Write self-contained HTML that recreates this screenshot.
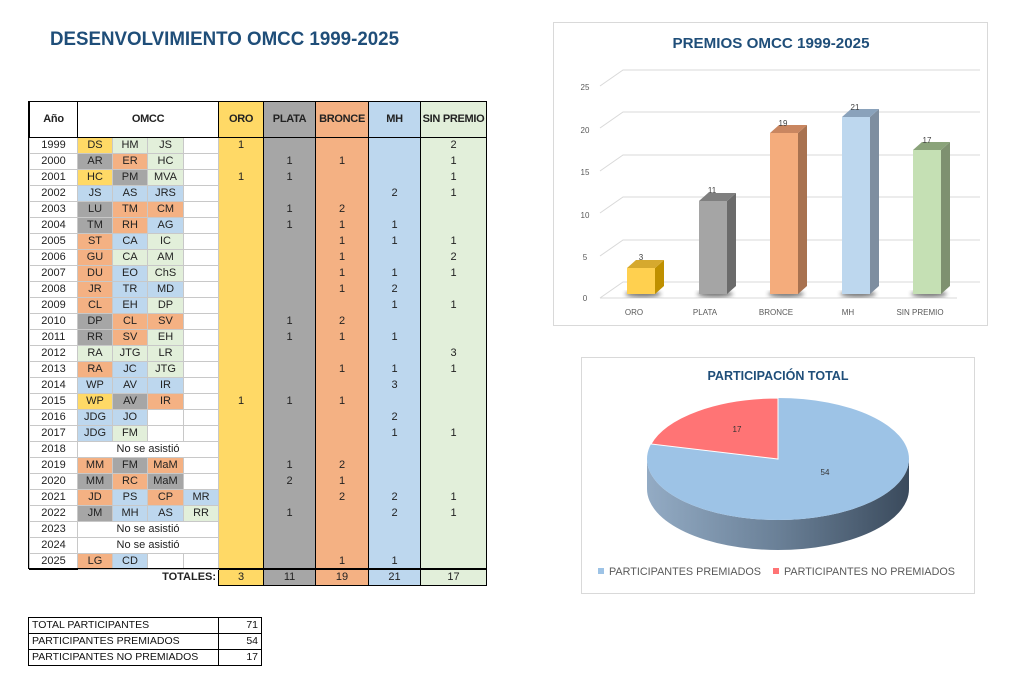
<!DOCTYPE html>
<html><head><meta charset="utf-8">
<style>
body{margin:0;width:1024px;height:692px;background:#fff;position:relative;overflow:hidden;font-family:"Liberation Sans",sans-serif;}
#t{position:absolute;left:29px;top:101px;width:457px;border-collapse:collapse;table-layout:fixed;font-size:11px;color:#222;}
#t td{height:15px;padding:0;text-align:center;border:1px solid #c8c8c8;line-height:15px;white-space:nowrap;overflow:hidden;}
#t tr.h td{height:35px;font-weight:bold;font-size:11px;letter-spacing:-0.3px;border:1px solid #000;}
#t td.Y{background:#ffd966}#t td.G{background:#a6a6a6}#t td.O{background:#f4b183}#t td.B{background:#bdd7ee}#t td.L{background:#e2efda}
#t td.c{border-top:none;border-bottom:none;border-left:1px solid #000;border-right:1px solid #000;}
#t tr.tot td{border:1px solid #000;}
#t tr.tot td.n{border:none;text-align:right;font-weight:bold;padding-right:2px;overflow:visible;}
#b{position:absolute;left:28px;top:617px;border-collapse:collapse;font-size:10.5px;color:#111;}
#b td{border:1px solid #000;height:15px;padding:0 3px;line-height:15px;}
</style></head><body>
<svg width="1024" height="692" style="position:absolute;left:0;top:0">
<defs>
<linearGradient id="side" x1="0" x2="1" y1="0" y2="0"><stop offset="0" stop-color="#93abc4"/><stop offset="0.5" stop-color="#6a8097"/><stop offset="1" stop-color="#3a4a5c"/></linearGradient>
<filter id="bl"><feGaussianBlur stdDeviation="2"/></filter>
</defs>
<text x="50" y="45" font-size="19" font-weight="bold" fill="#1f4e79" textLength="349" lengthAdjust="spacingAndGlyphs">DESENVOLVIMIENTO OMCC 1999-2025</text>
<rect x="553.5" y="22.5" width="434" height="303" fill="#fff" stroke="#d9d9d9"/>
<text x="771" y="48" font-size="15" font-weight="bold" fill="#1f4e79" text-anchor="middle" textLength="197" lengthAdjust="spacingAndGlyphs">PREMIOS OMCC 1999-2025</text>
<g stroke="#d9d9d9" fill="none" stroke-width="1">
<polyline points="600,298 623,282 980,282"/>
<polyline points="600,256 623,240 980,240"/>
<polyline points="600,213 623,197 980,197"/>
<polyline points="600,171 623,155 980,155"/>
<polyline points="600,128 623,112 980,112"/>
<polyline points="600,86 623,70 980,70"/>
<line x1="600" y1="298" x2="957" y2="298"/>
</g>
<g font-size="8" fill="#595959" text-anchor="middle">
<text x="585" y="301">0</text><text x="585" y="260">5</text><text x="585" y="218">10</text><text x="585" y="175">15</text><text x="585" y="133">20</text><text x="585" y="90">25</text>
<text x="634" y="315">ORO</text><text x="705" y="315">PLATA</text><text x="776" y="315">BRONCE</text><text x="848" y="315">MH</text><text x="920" y="315">SIN PREMIO</text>
</g>
<g filter="url(#bl)" fill="#333" opacity="0.7">
<ellipse cx="643" cy="294" rx="18" ry="3"/><ellipse cx="715" cy="294" rx="18" ry="3"/><ellipse cx="786" cy="294" rx="18" ry="3"/><ellipse cx="858" cy="294" rx="18" ry="3"/><ellipse cx="929" cy="294" rx="18" ry="3"/>
</g>
<g>
<polygon points="655,268 664,260 664,286 655,294" fill="#bf9000"/><polygon points="627,268 636,260 664,260 655,268" fill="#d6a92e"/><rect x="627" y="268" width="28" height="26" fill="#ffd04f"/>
<polygon points="727,201 736,193 736,286 727,294" fill="#6b6b6b"/><polygon points="699,201 708,193 736,193 727,201" fill="#7f7f7f"/><rect x="699" y="201" width="28" height="93" fill="#a5a5a5"/>
<polygon points="798,133 807,125 807,286 798,294" fill="#a87250"/><polygon points="770,133 779,125 807,125 798,133" fill="#c98660"/><rect x="770" y="133" width="28" height="161" fill="#f4ac7c"/>
<polygon points="870,117 879,109 879,286 870,294" fill="#7e8ea0"/><polygon points="842,117 851,109 879,109 870,117" fill="#8aa2bb"/><rect x="842" y="117" width="28" height="177" fill="#bdd7ee"/>
<polygon points="941,150 950,142 950,286 941,294" fill="#7e9170"/><polygon points="913,150 922,142 950,142 941,150" fill="#8aa37a"/><rect x="913" y="150" width="28" height="144" fill="#c5e0b4"/>
</g>
<g font-size="8" fill="#404040" text-anchor="middle">
<text x="641" y="260">3</text><text x="712" y="193">11</text><text x="783" y="126">19</text><text x="855" y="110">21</text><text x="927" y="143">17</text>
</g>
<rect x="581.5" y="357.5" width="393" height="236" fill="#fff" stroke="#d9d9d9"/>
<text x="778" y="380" font-size="13" font-weight="bold" fill="#1f4e79" text-anchor="middle" textLength="141" lengthAdjust="spacingAndGlyphs">PARTICIPACIÓN TOTAL</text>
<path d="M647 459 A131 61 0 0 0 909 459 L909 489 A131 61 0 0 1 647 489 Z" fill="url(#side)"/>
<ellipse cx="778" cy="459" rx="131" ry="61" fill="#9dc3e6"/>
<path d="M778 459 L778 398 A131 61 0 0 0 651 444 Z" fill="#ff7475" stroke="#fff" stroke-width="1"/>
<text x="737" y="432" font-size="8" fill="#333" text-anchor="middle">17</text>
<text x="825" y="475" font-size="8" fill="#333" text-anchor="middle">54</text>
<rect x="598" y="568" width="6" height="6" fill="#9dc3e6"/>
<text x="609" y="575" font-size="11" fill="#595959" textLength="152" lengthAdjust="spacingAndGlyphs">PARTICIPANTES PREMIADOS</text>
<rect x="773" y="568" width="6" height="6" fill="#ff7475"/>
<text x="784" y="575" font-size="11" fill="#595959" textLength="171" lengthAdjust="spacingAndGlyphs">PARTICIPANTES NO PREMIADOS</text>
</svg>

<table id="t">
<colgroup><col style="width:48px"><col style="width:35px"><col style="width:35px"><col style="width:36px"><col style="width:35px"><col style="width:45px"><col style="width:52px"><col style="width:53px"><col style="width:52px"><col style="width:66px"></colgroup>
<tr class="h"><td>Año</td><td colspan="4">OMCC</td><td class="Y">ORO</td><td class="G">PLATA</td><td class="O">BRONCE</td><td class="B">MH</td><td class="L">SIN PREMIO</td></tr>
<tr><td>1999</td><td class="Y">DS</td><td class="L">HM</td><td class="L">JS</td><td></td><td class="Y c">1</td><td class="G c"></td><td class="O c"></td><td class="B c"></td><td class="L c">2</td></tr>
<tr><td>2000</td><td class="G">AR</td><td class="O">ER</td><td class="L">HC</td><td></td><td class="Y c"></td><td class="G c">1</td><td class="O c">1</td><td class="B c"></td><td class="L c">1</td></tr>
<tr><td>2001</td><td class="Y">HC</td><td class="G">PM</td><td class="L">MVA</td><td></td><td class="Y c">1</td><td class="G c">1</td><td class="O c"></td><td class="B c"></td><td class="L c">1</td></tr>
<tr><td>2002</td><td class="B">JS</td><td class="B">AS</td><td class="B">JRS</td><td></td><td class="Y c"></td><td class="G c"></td><td class="O c"></td><td class="B c">2</td><td class="L c">1</td></tr>
<tr><td>2003</td><td class="G">LU</td><td class="O">TM</td><td class="O">CM</td><td></td><td class="Y c"></td><td class="G c">1</td><td class="O c">2</td><td class="B c"></td><td class="L c"></td></tr>
<tr><td>2004</td><td class="G">TM</td><td class="O">RH</td><td class="B">AG</td><td></td><td class="Y c"></td><td class="G c">1</td><td class="O c">1</td><td class="B c">1</td><td class="L c"></td></tr>
<tr><td>2005</td><td class="O">ST</td><td class="B">CA</td><td class="L">IC</td><td></td><td class="Y c"></td><td class="G c"></td><td class="O c">1</td><td class="B c">1</td><td class="L c">1</td></tr>
<tr><td>2006</td><td class="O">GU</td><td class="L">CA</td><td class="L">AM</td><td></td><td class="Y c"></td><td class="G c"></td><td class="O c">1</td><td class="B c"></td><td class="L c">2</td></tr>
<tr><td>2007</td><td class="O">DU</td><td class="B">EO</td><td class="L">ChS</td><td></td><td class="Y c"></td><td class="G c"></td><td class="O c">1</td><td class="B c">1</td><td class="L c">1</td></tr>
<tr><td>2008</td><td class="O">JR</td><td class="B">TR</td><td class="B">MD</td><td></td><td class="Y c"></td><td class="G c"></td><td class="O c">1</td><td class="B c">2</td><td class="L c"></td></tr>
<tr><td>2009</td><td class="O">CL</td><td class="B">EH</td><td class="L">DP</td><td></td><td class="Y c"></td><td class="G c"></td><td class="O c"></td><td class="B c">1</td><td class="L c">1</td></tr>
<tr><td>2010</td><td class="G">DP</td><td class="O">CL</td><td class="O">SV</td><td></td><td class="Y c"></td><td class="G c">1</td><td class="O c">2</td><td class="B c"></td><td class="L c"></td></tr>
<tr><td>2011</td><td class="G">RR</td><td class="O">SV</td><td class="L">EH</td><td></td><td class="Y c"></td><td class="G c">1</td><td class="O c">1</td><td class="B c">1</td><td class="L c"></td></tr>
<tr><td>2012</td><td class="L">RA</td><td class="L">JTG</td><td class="L">LR</td><td></td><td class="Y c"></td><td class="G c"></td><td class="O c"></td><td class="B c"></td><td class="L c">3</td></tr>
<tr><td>2013</td><td class="O">RA</td><td class="B">JC</td><td class="L">JTG</td><td></td><td class="Y c"></td><td class="G c"></td><td class="O c">1</td><td class="B c">1</td><td class="L c">1</td></tr>
<tr><td>2014</td><td class="B">WP</td><td class="B">AV</td><td class="B">IR</td><td></td><td class="Y c"></td><td class="G c"></td><td class="O c"></td><td class="B c">3</td><td class="L c"></td></tr>
<tr><td>2015</td><td class="Y">WP</td><td class="G">AV</td><td class="O">IR</td><td></td><td class="Y c">1</td><td class="G c">1</td><td class="O c">1</td><td class="B c"></td><td class="L c"></td></tr>
<tr><td>2016</td><td class="B">JDG</td><td class="B">JO</td><td></td><td></td><td class="Y c"></td><td class="G c"></td><td class="O c"></td><td class="B c">2</td><td class="L c"></td></tr>
<tr><td>2017</td><td class="B">JDG</td><td class="L">FM</td><td></td><td></td><td class="Y c"></td><td class="G c"></td><td class="O c"></td><td class="B c">1</td><td class="L c">1</td></tr>
<tr><td>2018</td><td colspan="4">No se asistió</td><td class="Y c"></td><td class="G c"></td><td class="O c"></td><td class="B c"></td><td class="L c"></td></tr>
<tr><td>2019</td><td class="O">MM</td><td class="G">FM</td><td class="O">MaM</td><td></td><td class="Y c"></td><td class="G c">1</td><td class="O c">2</td><td class="B c"></td><td class="L c"></td></tr>
<tr><td>2020</td><td class="G">MM</td><td class="O">RC</td><td class="G">MaM</td><td></td><td class="Y c"></td><td class="G c">2</td><td class="O c">1</td><td class="B c"></td><td class="L c"></td></tr>
<tr><td>2021</td><td class="O">JD</td><td class="B">PS</td><td class="O">CP</td><td class="B">MR</td><td class="Y c"></td><td class="G c"></td><td class="O c">2</td><td class="B c">2</td><td class="L c">1</td></tr>
<tr><td>2022</td><td class="G">JM</td><td class="B">MH</td><td class="B">AS</td><td class="L">RR</td><td class="Y c"></td><td class="G c">1</td><td class="O c"></td><td class="B c">2</td><td class="L c">1</td></tr>
<tr><td>2023</td><td colspan="4">No se asistió</td><td class="Y c"></td><td class="G c"></td><td class="O c"></td><td class="B c"></td><td class="L c"></td></tr>
<tr><td>2024</td><td colspan="4">No se asistió</td><td class="Y c"></td><td class="G c"></td><td class="O c"></td><td class="B c"></td><td class="L c"></td></tr>
<tr><td style="border-bottom:1px solid #000">2025</td><td class="O">LG</td><td class="B">CD</td><td></td><td></td><td class="Y c" style="border-bottom:1px solid #000"></td><td class="G c" style="border-bottom:1px solid #000"></td><td class="O c" style="border-bottom:1px solid #000">1</td><td class="B c" style="border-bottom:1px solid #000">1</td><td class="L c" style="border-bottom:1px solid #000"></td></tr>
<tr class="tot"><td class="n" colspan="5">TOTALES:</td><td class="Y">3</td><td class="G">11</td><td class="O">19</td><td class="B">21</td><td class="L">17</td></tr>
</table>
<div style="position:absolute;left:28px;top:101px;width:459px;height:468px;border:1px solid #000;box-sizing:border-box;pointer-events:none"></div>

<table id="b">
<tr><td style="width:183px">TOTAL PARTICIPANTES</td><td style="width:36px;text-align:right">71</td></tr>
<tr><td>PARTICIPANTES PREMIADOS</td><td style="text-align:right">54</td></tr>
<tr><td>PARTICIPANTES NO PREMIADOS</td><td style="text-align:right">17</td></tr>
</table>
</body></html>
